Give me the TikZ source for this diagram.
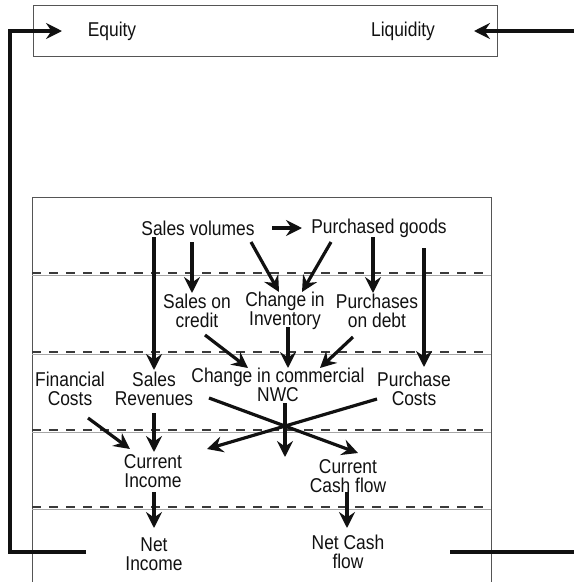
\documentclass[tikz,border=0pt]{standalone}
\usepackage{fontspec}
\setmainfont{Liberation Sans}[FakeStretch=0.87]
\usetikzlibrary{arrows.meta,calc}
\definecolor{frame}{HTML}{555555}
\definecolor{dashc}{HTML}{3A3A3A}
\definecolor{ink}{HTML}{111111}
\tikzset{
  lbl/.style={inner sep=0pt, align=center, text=ink,
    font=\fontsize{20}{18.5}\selectfont},
  tip/.style={-{Stealth[length=16pt,width=16pt,inset=5.5pt]}},
  flow/.style={line width=3.2pt, draw=ink, tip},
  feed/.style={line width=3.2pt, draw=ink},
  band/.style={draw=frame, line width=0.9pt},
  sep/.style={draw=dashc, line width=1.2pt, dash pattern=on 9pt off 8pt},
  sepline/.style={draw=black!35, line width=0.7pt}
}
\begin{document}
\begin{tikzpicture}[x=1pt,y=-1pt]
\useasboundingbox (0,0) rectangle (574,582);

% top box: equity and liquidity
\draw[band] (33,5) rectangle (497,56);
\node[lbl] (eq)  at (112,31) {Equity};
\node[lbl] (liq) at (403,31) {Liquidity};

% stacked bands of the lower panel
\draw[band] (32,582) -- (32,197) -- (491,197) -- (491,582);
\foreach \yy in {275,354,432,509}
  \draw[sepline] (32,\yy) -- (491,\yy);
\foreach \yy in {273,352,430,507}
  \draw[sep] (32,\yy) -- (491,\yy);

% nodes
\node[lbl] (sv)  at (198,228) {Sales volumes};
\node[lbl] (pg)  at (379,228) {Purchased goods};
\node[lbl] (soc) at (197,311) {Sales on\\credit};
\node[lbl] (cii) at (285,311) {Change in\\Inventory};
\node[lbl] (pod) at (377,311) {Purchases\\on debt};
\node[lbl] (fc)  at (70,389)  {Financial\\Costs};
\node[lbl] (sr)  at (154,389) {Sales\\Revenues};
\node[lbl] (nwc) at (278,385) {Change in commercial\\NWC};
\node[lbl] (pc)  at (414,389) {Purchase\\Costs};
\node[lbl] (ci)  at (153,471) {Current\\Income};
\node[lbl] (ccf) at (348,476) {Current\\Cash flow};
\node[lbl] (ni)  at (154,554) {Net\\Income};
\node[lbl] (ncf) at (348,552) {Net Cash\\flow};

\coordinate (nwcend) at (285,457);
\coordinate (rightout) at (574,552);
\coordinate (rightin) at (574,31);

% connectors
\draw[flow] ($(sv)+(74,0)$) -- ($(pg)+(-77,0)$);
\draw[flow] ($(sv)+(-44,9)$)  -- ($(sr)+(0,-19)$);
\draw[flow] ($(sv)+(-6,14)$)  -- ($(soc)+(-5,-18)$);
\draw[flow] ($(sv)+(53,14)$)  -- ($(cii)+(-6,-19)$);
\draw[flow] ($(pg)+(-48,14)$) -- ($(cii)+(17,-19)$);
\draw[flow] ($(pg)+(-6,9)$)   -- ($(pod)+(-4,-18)$);
\draw[flow] ($(pg)+(45,20)$)  -- ($(pc)+(10,-22)$);

\draw[flow] ($(soc)+(8,24)$)   -- ($(nwc)+(-30,-17)$);
\draw[flow] ($(cii)+(3,16)$)   -- ($(nwc)+(10,-17)$);
\draw[flow] ($(pod)+(-24,26)$) -- ($(nwc)+(42,-17)$);

\draw[flow] ($(sr)+(55,9)$)   -- ($(ccf)+(10,-23)$);
\draw[flow] ($(pc)+(-37,10)$) -- ($(ci)+(54,-22)$);
\draw[flow] ($(nwc)+(7,18)$)  -- (nwcend);
\draw[flow] ($(fc)+(18,29)$)  -- ($(ci)+(-23,-22)$);
\draw[flow] ($(sr)+(0,24)$)   -- ($(ci)+(1,-19)$);

\draw[flow] ($(ci)+(1,21)$)   -- ($(ni)+(0,-26)$);
\draw[flow] ($(ccf)+(-1,16)$) -- ($(ncf)+(-1,-24)$);

% feedback loops to the top box
\draw[feed, tip] ($(ni)+(-68,-2)$) -- ++(-76,0) |- ($(eq)+(-50,0)$);
\draw[feed] ($(ncf)+(102,0)$) -- (rightout);
\draw[flow] (rightin) -- ($(liq)+(71,0)$);
\end{tikzpicture}
\end{document}
